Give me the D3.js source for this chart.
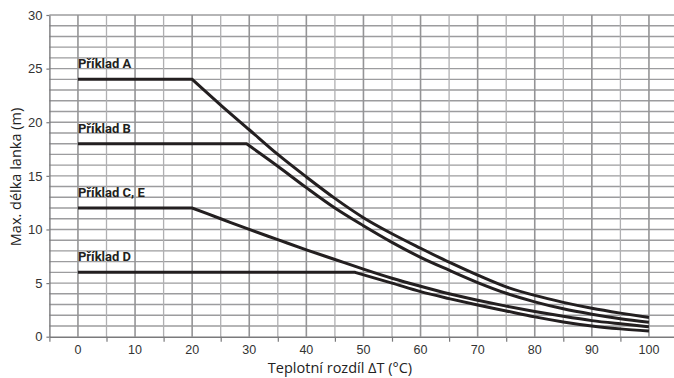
<!DOCTYPE html>
<html>
<head>
<meta charset="utf-8">
<script src="https://cdn.jsdelivr.net/npm/d3@7/dist/d3.min.js"></script>
<style>
  html, body { margin: 0; padding: 0; background: #fff; }
  svg { display: block; }
</style>
</head>
<body>
<svg id="chart" width="674" height="378"></svg>
<script>
// Temperature difference (°C) sample points and max cable length (m) per example.
// The first two points of each series are the flat plateau.
const tempA = [0, 20, 25, 30, 35, 40, 45, 50, 55, 60, 65, 70, 75, 80, 85, 90, 95, 100];
const lenA  = [24, 24, 21.6, 19.3, 17.0, 14.9, 12.9, 11.1, 9.6, 8.25, 6.95, 5.75, 4.65, 3.85, 3.2, 2.65, 2.2, 1.8];

const tempB = [0, 29.5, 35, 40, 45, 50, 55, 60, 65, 70, 75, 80, 85, 90, 95, 100];
const lenB  = [18, 18, 15.9, 13.9, 12.0, 10.35, 8.8, 7.4, 6.2, 5.05, 4.05, 3.25, 2.6, 2.1, 1.68, 1.35];

const tempC = [0, 20, 25, 30, 35, 40, 45, 50, 55, 60, 65, 70, 75, 80, 85, 90, 95, 100];
const lenC  = [12, 12, 11.0, 10.0, 9.05, 8.1, 7.2, 6.3, 5.45, 4.7, 4.0, 3.4, 2.85, 2.35, 1.9, 1.5, 1.2, 0.93];

const tempD = [0, 48.5, 55, 60, 65, 70, 75, 80, 85, 90, 95, 100];
const lenD  = [6, 6, 5.0, 4.2, 3.55, 2.95, 2.4, 1.85, 1.38, 1.0, 0.73, 0.53];

const seriesNames = ["Příklad A", "Příklad B", "Příklad C, E", "Příklad D"];
const xTickLabels = [0, 10, 20, 30, 40, 50, 60, 70, 80, 90, 100];
const yTickLabels = [0, 5, 10, 15, 20, 25, 30];

const svg = d3.select("#chart");

const x = d3.scaleLinear().domain([-5, 105]).range([49.4, 677.5]);
const y = d3.scaleLinear().domain([0, 30]).range([336.7, 15]);

// Grid: horizontal every 1 m, vertical every 5 °C
const grid = svg.append("g");
grid.selectAll("line.h")
  .data(d3.range(1, 31))
  .join("line")
  .attr("x1", x(-5)).attr("x2", 674)
  .attr("y1", d => y(d)).attr("y2", d => y(d))
  .attr("stroke", "#9c9c9e").attr("stroke-width", 1.4);

grid.selectAll("line.v")
  .data(d3.range(0, 106, 5))
  .join("line")
  .attr("x1", d => x(d)).attr("x2", d => x(d))
  .attr("y1", y(30)).attr("y2", y(0))
  .attr("stroke", d => d % 10 === 0 ? "#949496" : "#b0b0b2")
  .attr("stroke-width", d => d % 10 === 0 ? 1.6 : 1.3);

// Axes
const xAxis = d3.axisBottom(x)
  .tickValues(d3.range(-5, 106, 10))
  .tickFormat("")
  .tickSize(5)
  .tickSizeOuter(0);
svg.append("g")
  .attr("transform", `translate(0,${y(0)})`)
  .call(xAxis)
  .call(g => g.select(".domain").attr("stroke", "#7a7a7c").attr("stroke-width", 1.4))
  .call(g => g.selectAll(".tick line").attr("stroke", "#7a7a7c").attr("stroke-width", 1.2));

svg.append("g")
  .selectAll("text")
  .data(xTickLabels)
  .join("text")
  .attr("x", d => x(d))
  .attr("y", 354)
  .attr("text-anchor", "middle")
  .attr("font-family", "Liberation Sans, Arial, sans-serif")
  .attr("font-size", 12.5)
  .attr("fill", "#333")
  .text(d => d);

const yAxis = d3.axisLeft(y)
  .tickValues(yTickLabels)
  .tickSize(3)
  .tickSizeOuter(0)
  .tickPadding(4);
svg.append("g")
  .attr("transform", `translate(${x(-5)},0)`)
  .call(yAxis)
  .call(g => g.select(".domain").attr("stroke", "#7a7a7c").attr("stroke-width", 1.4))
  .call(g => g.selectAll(".tick line").attr("stroke", "#7a7a7c").attr("stroke-width", 1.2))
  .call(g => g.selectAll(".tick text")
    .attr("font-family", "Liberation Sans, Arial, sans-serif")
    .attr("font-size", 13)
    .attr("fill", "#333"));

// Axis titles
svg.append("text")
  .attr("x", 340).attr("y", 373)
  .attr("text-anchor", "middle")
  .attr("font-family", "Open Sans, sans-serif")
  .attr("font-size", 14.5)
  .attr("fill", "#222")
  .text("Teplotní rozdíl ΔT (°C)");

svg.append("text")
  .attr("transform", "translate(21,177) rotate(-90)")
  .attr("text-anchor", "middle")
  .attr("font-family", "Open Sans, sans-serif")
  .attr("font-size", 14.5)
  .attr("fill", "#222")
  .text("Max. délka lanka (m)");

// Curves: straight plateau up to the break point, smooth decay after it
const series = [
  { name: seriesNames[0], t: tempA, v: lenA },
  { name: seriesNames[1], t: tempB, v: lenB },
  { name: seriesNames[2], t: tempC, v: lenC },
  { name: seriesNames[3], t: tempD, v: lenD }
];

const decay = d3.line()
  .x(d => x(d[0]))
  .y(d => y(d[1]))
  .curve(d3.curveMonotoneX);

function pathFor(s) {
  const pts = s.t.map((t, i) => [t, s.v[i]]);
  const tail = decay(pts.slice(1));
  return `M${x(pts[0][0])},${y(pts[0][1])}L` + tail.slice(1);
}

svg.append("g")
  .selectAll("path")
  .data(series)
  .join("path")
  .attr("d", pathFor)
  .attr("fill", "none")
  .attr("stroke", "#231f20")
  .attr("stroke-width", 3)
  .attr("stroke-linejoin", "miter");

// Series labels above each plateau
svg.append("g")
  .selectAll("text")
  .data(series)
  .join("text")
  .attr("x", x(0))
  .attr("y", s => y(s.v[0]) - 11)
  .attr("font-family", "Roboto, sans-serif")
  .attr("font-weight", "bold")
  .attr("font-size", 13)
  .attr("fill", "#231f20")
  .text(s => s.name);
</script>
</body>
</html>
